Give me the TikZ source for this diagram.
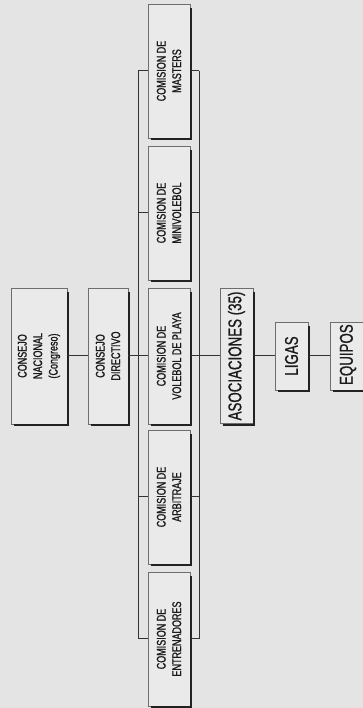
\documentclass[tikz,border=0pt]{standalone}
\usepackage{fontspec}
\newfontfamily\narrowfont[FakeStretch=0.72,FakeBold=1.2]{Liberation Sans}
\newfontfamily\bignarrowfont[FakeStretch=0.72,FakeBold=0.8]{Liberation Sans}
\definecolor{bgclr}{HTML}{E4E4E4}
\definecolor{boxfill}{HTML}{EAEAEA}
\definecolor{boxline}{HTML}{6E6E6E}
\definecolor{lineclr}{HTML}{333333}
\definecolor{shadowclr}{HTML}{222222}
\definecolor{ink}{HTML}{1A1A1A}
\newcommand\boxshadow[1]{\draw[shadowline] ([shift={(3,-1)}]#1.north west) -- ([shift={(1,-1)}]#1.south west) -- ([shift={(1,-4)}]#1.south east);}
\begin{document}
\begin{tikzpicture}[x=1pt,y=1pt,
  box/.style={draw=boxline, line width=0.6pt, fill=boxfill, rotate=90, inner sep=0pt, align=center, text=ink, font=\narrowfont\fontsize{12.5}{15.5}\selectfont},
  bigbox/.style={box, font=\bignarrowfont\fontsize{18.5}{22}\selectfont},
  conn/.style={draw=lineclr, line width=1pt},
  shadowline/.style={draw=shadowclr, line width=2.2pt}]
\fill[bgclr] (0,0) rectangle (363,708);
\useasboundingbox (0,0) rectangle (363,708);
% top level
\node[box, minimum width=136pt, minimum height=56pt] (nac) at (39,352) {CONSEJO\\NACIONAL\\(Congreso)};
\node[box, minimum width=136pt, minimum height=40pt] (dir) at (108,352) {CONSEJO\\DIRECTIVO};
% commissions
\node[box, minimum width=134pt, minimum height=42pt] (mas) at (169,637) {COMISION DE\\MASTERS};
\node[box, minimum width=134pt, minimum height=42pt] (mini) at (169,495) {COMISION DE\\MINIVOLEBOL};
\node[box, minimum width=136pt, minimum height=42pt] (playa) at (169,352) {COMISION DE\\VOLEBOL DE PLAYA};
\node[box, minimum width=134pt, minimum height=42pt] (arb) at (169,211) {COMISION DE\\ARBITRAJE};
\node[box, minimum width=134pt, minimum height=42pt] (ent) at (169,69) {COMISION DE\\ENTRENADORES};
% lower levels
\node[bigbox, minimum width=135pt, minimum height=33pt] (asoc) at (236.5,352) {ASOCIACIONES (35)};
\node[bigbox, minimum width=68pt, minimum height=33pt] (ligas) at (291.5,352) {LIGAS};
\node[bigbox, minimum width=68pt, minimum height=36pt, text width=60pt, align=left] (equ) at (348,352) {\hspace*{1pt}EQUIPOS};
% shadows
\foreach \n in {nac,dir,mas,mini,playa,arb,ent,asoc,ligas,equ}{\boxshadow{\n}}
% buses
\coordinate (lt) at (138,637);
\coordinate (lb) at (138,69);
\coordinate (rt) at (199,637);
\coordinate (rb) at (199,69);
\draw[conn] (lt) -- (lb);
\draw[conn] (rt) -- (rb);
\draw[conn] (nac.south) -- (dir.north);
\draw[conn] (dir.south) -- (dir.south -| lt);
\foreach \n in {mas,mini,playa,arb,ent}{
  \draw[conn] (\n.north -| lt) -- (\n.north);
  \draw[conn] ([xshift=1pt]\n.south) -- (\n.south -| rt);
}
\draw[conn] (playa.south -| rt) -- (asoc.north);
\draw[conn] ([xshift=1pt]asoc.south) -- (ligas.north);
\draw[conn] ([xshift=1pt]ligas.south) -- (equ.north);
\end{tikzpicture}
\end{document}
